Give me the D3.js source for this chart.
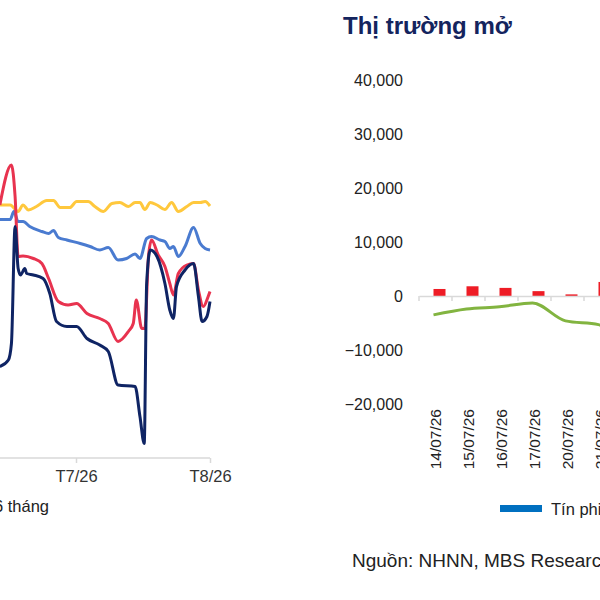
<!DOCTYPE html>
<html>
<head>
<meta charset="utf-8">
<script src="https://cdn.jsdelivr.net/npm/d3@7"></script>
<style>
body { margin: 0; background: #fff; }
svg { display: block; font-family: Arial, "Liberation Sans", sans-serif; }
</style>
</head>
<body>
<div id="chart"></div>
<script>
// Left panel: interbank rates (only the right part falls inside the frame)
const yellow = [[-12.5,5.06],[-10.8,5.06],[-9.5,4.93],[-8.7,5.06],[-7.8,4.96],[-6.5,5.03],[-4.8,5.15],[-3.7,5.15],[-2.6,5.01],[-1.0,5.01],[0.1,5.13],[2.0,5.13],[3.1,5.03],[4.5,4.93],[5.9,5.09],[7.2,5.11],[8.6,5.03],[9.7,5.11],[10.5,5.11],[11.3,4.97],[12.2,5.11],[13.3,5.06],[14.6,4.97],[15.7,5.11],[16.8,4.93],[18.2,5.03],[19.3,5.11],[20.4,5.11],[21.2,5.13],[22,5.04]];
const blue = [[-12.5,4.77],[-10.8,4.77],[-10.2,4.93],[-9.5,4.73],[-8.7,4.73],[-7.6,4.63],[-5.6,4.53],[-4.5,4.49],[-3.7,4.55],[-2.9,4.41],[-1.5,4.36],[0.7,4.29],[2.3,4.23],[3.9,4.16],[5.3,4.21],[6.9,3.96],[8.3,3.99],[9.7,4.08],[10.5,3.99],[11.6,4.39],[12.4,4.43],[13.8,4.36],[14.6,4.33],[15.4,4.19],[16.0,4.23],[16.8,4.03],[17.9,4.23],[19.3,4.61],[20.4,4.29],[21.2,4.19],[22,4.16]];
const red = [[-12.5,5.06],[-10.6,5.86],[-10.0,5.23],[-9.5,4.03],[-8.7,4.04],[-7.0,3.99],[-5.6,3.89],[-4.5,3.59],[-2.9,3.13],[-1.3,3.06],[0.1,3.09],[1.8,2.89],[3.9,2.79],[5.3,2.69],[6.9,2.33],[8.6,2.53],[9.4,2.69],[9.9,3.16],[10.8,2.59],[11.3,2.59],[11.9,4.03],[12.4,4.36],[13.5,4.06],[14.6,3.83],[15.4,3.49],[16.0,3.26],[16.8,3.69],[18.2,3.86],[19.3,3.89],[20.1,3.36],[20.9,3.03],[21.7,3.23],[22,3.33]];
const navy = [[-12.5,1.83],[-11.1,1.96],[-10.6,2.29],[-10.0,4.63],[-9.5,3.79],[-9.1,3.66],[-8.4,3.79],[-8.1,3.69],[-7.0,3.66],[-5.4,3.59],[-4.3,3.29],[-3.2,2.73],[-1.5,2.63],[0.1,2.63],[1.8,2.39],[3.9,2.26],[5.3,2.13],[6.9,1.46],[9.7,1.43],[10.5,0.83],[11.2,0.29],[11.6,3.49],[12.2,4.16],[13.3,4.03],[14.6,3.49],[15.4,2.96],[16.0,2.79],[16.5,3.43],[17.9,3.76],[19.3,3.89],[20.1,3.23],[20.7,2.73],[21.5,2.83],[22,3.13]];

// Right panel: open market operations (bn VND)
const dates = ["14/07/26","15/07/26","16/07/26","17/07/26","20/07/26","21/07/26","22/07/26","23/07/26"];
const bills = [1300, 1800, 1500, 900, 300, 2600, 0, 0];
const net = [-3500, -2400, -2000, -1300, -4600, -5300, -8500, -9000];

const svg = d3.select("#chart").append("svg").attr("width", 600).attr("height", 600);

// ---- left panel
const x = d3.scaleLinear().domain([0, 22]).range([76, 210]);
const y = d3.scaleLinear().domain([0, 6]).range([458, 158]);
const line = d3.line().x(d => x(d[0])).y(d => y(d[1])).curve(d3.curveMonotoneX);

const xAxis = svg.append("g").attr("transform", "translate(0,458)")
    .call(d3.axisBottom(x).tickValues([0, 22]).tickSize(5).tickFormat((d, i) => ["T7/26", "T8/26"][i]));
xAxis.select(".domain").attr("d", "M-20,0H210").attr("stroke", "#d9d9d9").attr("stroke-width", 1.5);
xAxis.selectAll(".tick line").attr("stroke", "#d9d9d9").attr("stroke-width", 1.5);
xAxis.selectAll(".tick text").attr("font-size", 16.5).attr("fill", "#333").attr("dy", "0.95em");

[[yellow, "#FFC83D"], [blue, "#4A7BD0"], [red, "#E8334F"], [navy, "#0F2464"]].forEach(([s, c]) => {
    svg.append("path").datum(s).attr("d", line)
        .attr("fill", "none").attr("stroke", c).attr("stroke-width", 3);
});
svg.append("text").attr("x", -6).attr("y", 512).attr("font-size", 16.5).attr("fill", "#222").text("6 tháng");

// ---- right panel
svg.append("text").attr("x", 343).attr("y", 34).attr("font-size", 24).attr("font-weight", "bold")
    .attr("fill", "#14245e").text("Thị trường mở");

const xb = d3.scaleBand().domain(dates).range([419, 683]);
const yb = d3.scaleLinear().domain([-20000, 40000]).range([404, 80]);

const yAx = svg.append("g").attr("transform", "translate(405,0)")
    .call(d3.axisLeft(yb).tickValues(d3.range(-20000, 40001, 10000)).tickSize(0).tickFormat(d3.format(",")));
yAx.select(".domain").remove();
yAx.selectAll("text").attr("font-size", 16).attr("fill", "#222").attr("x", -2);

svg.selectAll("rect.bill").data(bills).enter().append("rect").attr("class", "bill")
    .attr("x", (d, i) => xb(dates[i]) + xb.bandwidth() / 2 - 6 + 4)
    .attr("width", 12)
    .attr("y", d => yb(Math.max(0, d)))
    .attr("height", d => Math.abs(yb(d) - yb(0)))
    .attr("fill", "#EE1C25");

const bx = svg.append("g").attr("transform", `translate(0,${yb(0)})`)
    .call(d3.axisBottom(xb).tickSize(0).tickFormat(""));
bx.select(".domain").attr("stroke", "#d9d9d9").attr("stroke-width", 1.5);
svg.selectAll("line.tk").data(d3.range(dates.length + 1)).enter().append("line").attr("class", "tk")
    .attr("x1", i => 419 + i * xb.bandwidth()).attr("x2", i => 419 + i * xb.bandwidth())
    .attr("y1", yb(0)).attr("y2", yb(0) + 5).attr("stroke", "#d9d9d9").attr("stroke-width", 1.5);

svg.append("path").datum(net)
    .attr("d", d3.line().x((d, i) => xb(dates[i]) + xb.bandwidth() / 2 - 2).y(d => yb(d)).curve(d3.curveMonotoneX))
    .attr("fill", "none").attr("stroke", "#82B440").attr("stroke-width", 3);

svg.selectAll("text.date").data(dates).enter().append("text").attr("class", "date")
    .attr("transform", d => `translate(${xb(d) + xb.bandwidth() / 2 + 5},409) rotate(-90)`)
    .attr("text-anchor", "end").attr("font-size", 15.5).attr("fill", "#222").text(d => d);

svg.append("rect").attr("x", 500).attr("y", 505).attr("width", 42).attr("height", 7).attr("fill", "#0070C0");
svg.append("text").attr("x", 551).attr("y", 515).attr("font-size", 16.5).attr("fill", "#222").text("Tín phiếu phát hành");
svg.append("text").attr("x", 352).attr("y", 567).attr("font-size", 19).attr("fill", "#222").text("Nguồn: NHNN, MBS Research");
</script>
</body>
</html>
